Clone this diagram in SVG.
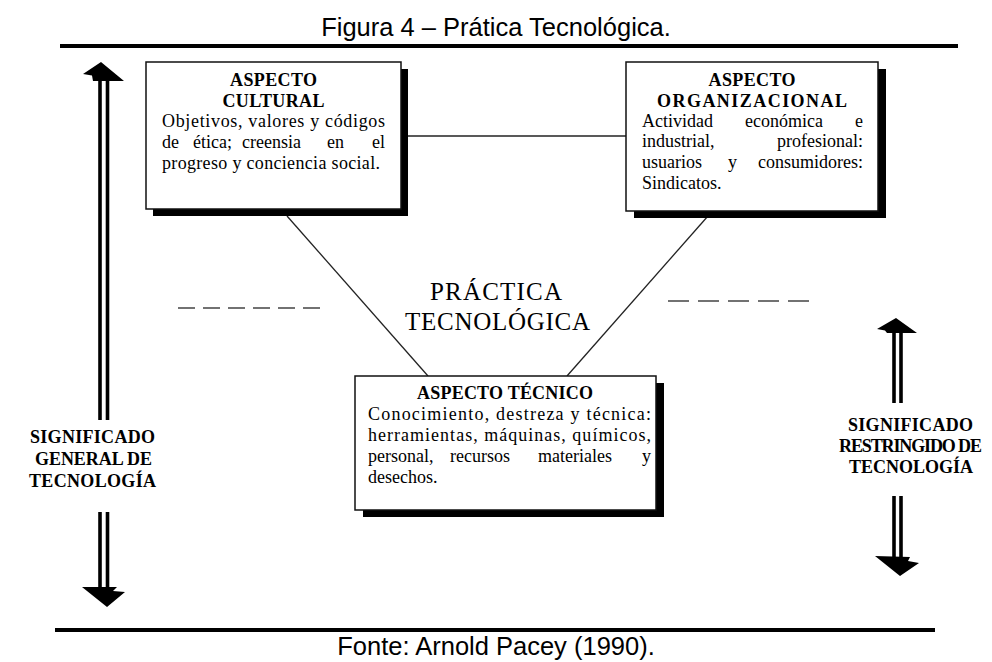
<svg xmlns="http://www.w3.org/2000/svg" width="992" height="662" viewBox="0 0 992 662">
  <style>
    .caption { font-family: "Liberation Sans", Arial, sans-serif; font-size: 25.5px; fill: #000; text-anchor: middle; }
    .head { font-family: "Liberation Serif", "Times New Roman", serif; font-size: 18px; font-weight: bold; fill: #000; text-anchor: middle; }
    .body { font-family: "Liberation Serif", "Times New Roman", serif; font-size: 18px; fill: #000; }
    .end { text-anchor: end; }
    .center { font-family: "Liberation Serif", "Times New Roman", serif; font-size: 25px; fill: #000; text-anchor: middle; }
    .side { font-family: "Liberation Serif", "Times New Roman", serif; font-size: 18px; font-weight: bold; fill: #000; text-anchor: middle; }
    .box { fill: #fff; stroke: #111; stroke-width: 1.5; }
    .shadow { fill: #000; }
    .rule { stroke: #000; stroke-width: 4; }
    .link { stroke: #222; stroke-width: 1.3; fill: none; }
    .dash { stroke: #444; stroke-width: 1.6; fill: none; }
    .shaft { stroke: #000; stroke-width: 3.6; }
    .tip { fill: #000; }
  </style>

  <rect width="992" height="662" fill="#fff"/>

  <!-- caption and rules -->
  <text class="caption" x="496" y="36">Figura 4 – Prática Tecnológica.</text>
  <line class="rule" x1="60" y1="46" x2="958" y2="46"/>
  <line class="rule" x1="55" y1="630" x2="935" y2="630"/>
  <text class="caption" x="496" y="655">Fonte: Arnold Pacey (1990).</text>

  <!-- connectors -->
  <g id="connectors">
    <line class="link" x1="401" y1="136" x2="626" y2="136"/>
    <line class="link" x1="287" y1="216" x2="428" y2="376"/>
    <line class="link" x1="708" y1="216" x2="567" y2="376"/>
    <line class="dash" x1="178" y1="308" x2="320" y2="308" stroke-dasharray="17 8"/>
    <line class="dash" x1="668" y1="301" x2="809" y2="301" stroke-dasharray="21 9"/>
  </g>

  <!-- cultural aspect -->
  <g id="node-cultural">
    <rect class="shadow" x="153" y="69" width="255" height="147"/>
    <rect class="box" x="146" y="62" width="255" height="147"/>
    <text class="head" x="273.5" y="86" textLength="87">ASPECTO</text>
    <text class="head" x="273.5" y="107" textLength="102">CULTURAL</text>
    <text class="body" x="162" y="127" textLength="223" lengthAdjust="spacing">Objetivos, valores y códigos</text>
    <text class="body" y="148"><tspan x="162">de</tspan><tspan x="193">ética;</tspan><tspan x="242">creensia</tspan><tspan x="327">en</tspan><tspan class="end" x="385">el</tspan></text>
    <text class="body" x="162" y="169" textLength="218" lengthAdjust="spacing">progreso y conciencia social.</text>
  </g>

  <!-- organisational aspect -->
  <g id="node-organizacional">
    <rect class="shadow" x="634" y="69" width="252" height="149"/>
    <rect class="box" x="626" y="62" width="252" height="149"/>
    <text class="head" x="752" y="86" textLength="87">ASPECTO</text>
    <text class="head" x="752" y="107" textLength="190">ORGANIZACIONAL</text>
    <text class="body" y="127"><tspan x="642">Actividad</tspan><tspan x="745">económica</tspan><tspan class="end" x="863">e</tspan></text>
    <text class="body" y="147"><tspan x="642">industrial,</tspan><tspan class="end" x="863">profesional:</tspan></text>
    <text class="body" y="168"><tspan x="642">usuarios</tspan><tspan x="728">y</tspan><tspan class="end" x="863">consumidores:</tspan></text>
    <text class="body" x="642" y="189">Sindicatos.</text>
  </g>

  <!-- central label -->
  <g id="node-practica">
    <text class="center" x="496" y="300" textLength="132" lengthAdjust="spacing">PRÁCTICA</text>
    <text class="center" x="497.5" y="330" textLength="185" lengthAdjust="spacing">TECNOLÓGICA</text>
  </g>

  <!-- technical aspect -->
  <g id="node-tecnico">
    <rect class="shadow" x="363" y="383" width="301" height="134"/>
    <rect class="box" x="355" y="376" width="301" height="134"/>
    <text class="head" x="505" y="399" textLength="176">ASPECTO TÉCNICO</text>
    <text class="body" x="368" y="420" textLength="283" lengthAdjust="spacing">Conocimiento, destreza y técnica:</text>
    <text class="body" x="368" y="441" textLength="283" lengthAdjust="spacing">herramientas, máquinas, químicos,</text>
    <text class="body" y="462"><tspan x="368">personal,</tspan><tspan x="450">recursos</tspan><tspan x="538">materiales</tspan><tspan class="end" x="651">y</tspan></text>
    <text class="body" x="368" y="483">desechos.</text>
  </g>

  <!-- broad meaning: double arrow on the left -->
  <g id="node-general">
    <line class="shaft" x1="100" y1="78" x2="100" y2="420"/>
    <line class="shaft" x1="107.5" y1="78" x2="107.5" y2="420"/>
    <path class="tip" d="M101,62 L124,81 L93,81 L92,75.5 L83,74 Z"/>
    <line class="shaft" x1="100" y1="512" x2="100" y2="590"/>
    <line class="shaft" x1="107.5" y1="512" x2="107.5" y2="590"/>
    <path class="tip" d="M82,587 L117,587 L113,591 L125,592 L107,607 Z"/>
    <text class="side" x="92.5" y="443" textLength="125">SIGNIFICADO</text>
    <text class="side" x="93.5" y="465" textLength="117">GENERAL DE</text>
    <text class="side" x="92.5" y="487" textLength="127">TECNOLOGÍA</text>
  </g>

  <!-- restricted meaning: double arrow on the right -->
  <g id="node-restringido">
    <line class="shaft" x1="894" y1="331" x2="894" y2="403"/>
    <line class="shaft" x1="901" y1="331" x2="901" y2="403"/>
    <path class="tip" d="M896,318 L917,333 L887,333 L885,330.5 L877,329 Z"/>
    <line class="shaft" x1="894" y1="496" x2="894" y2="558"/>
    <line class="shaft" x1="901" y1="496" x2="901" y2="558"/>
    <path class="tip" d="M875,556 L910,557 L908,561 L919,563 L900,576 Z"/>
    <text class="side" x="910.5" y="431" textLength="125">SIGNIFICADO</text>
    <text class="side" x="910.5" y="452" textLength="143">RESTRINGIDO DE</text>
    <text class="side" x="911" y="473" textLength="124">TECNOLOGÍA</text>
  </g>
</svg>
